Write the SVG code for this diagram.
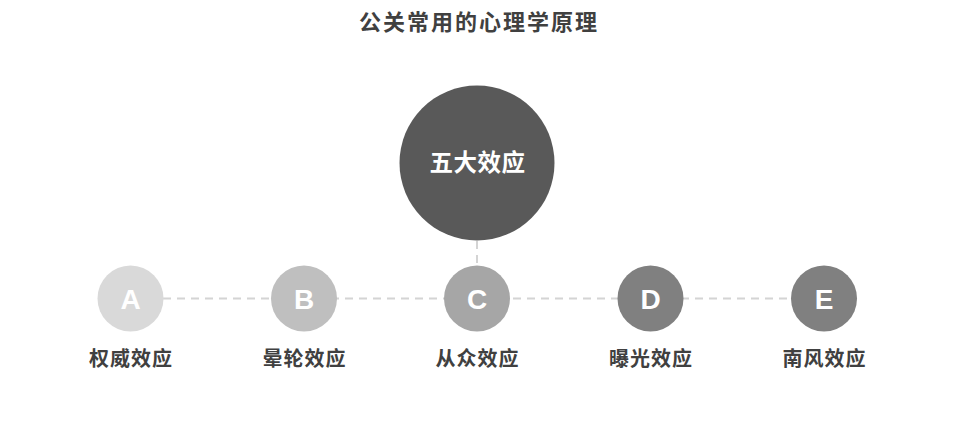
<svg xmlns="http://www.w3.org/2000/svg" width="957" height="427" viewBox="0 0 957 427">
<style>
.t{font-family:"Liberation Sans","Noto Sans CJK SC",sans-serif;font-weight:bold;text-anchor:middle}
.title{font-size:22px;fill:#404040;letter-spacing:2px}
.lbl{font-size:20px;fill:#404040;letter-spacing:1px}
.let{font-size:28px;fill:#ffffff}
.hub{font-size:23.5px;fill:#ffffff;letter-spacing:0.5px}
.dash{stroke:#d4d4d4;stroke-width:2;stroke-dasharray:8 6;fill:none}
</style>
<rect width="957" height="427" fill="#ffffff"/>
<text class="t title" x="479" y="30">公关常用的心理学原理</text>
<g id="connectors">
<line class="dash" x1="163" y1="298.5" x2="791" y2="298.5"/>
<line class="dash" x1="477" y1="241" x2="477" y2="265"/>
</g>
<g id="hub">
<circle cx="477" cy="163" r="77.5" fill="#595959"/>
<text class="t hub" x="477.5" y="171">五大效应</text>
</g>
<g id="nodeA">
<circle cx="130.5" cy="298.5" r="33" fill="#d9d9d9"/>
<text class="t let" x="130.5" y="309">A</text>
<text class="t lbl" x="131" y="366">权威效应</text>
</g>
<g id="nodeB">
<circle cx="304" cy="298.5" r="33" fill="#bfbfbf"/>
<text class="t let" x="304" y="309">B</text>
<text class="t lbl" x="304.5" y="366">晕轮效应</text>
</g>
<g id="nodeC">
<circle cx="477" cy="298.5" r="33" fill="#a6a6a6"/>
<text class="t let" x="477" y="309">C</text>
<text class="t lbl" x="477.5" y="366">从众效应</text>
</g>
<g id="nodeD">
<circle cx="650.5" cy="298.5" r="33" fill="#808080"/>
<text class="t let" x="650.5" y="309">D</text>
<text class="t lbl" x="651" y="366">曝光效应</text>
</g>
<g id="nodeE">
<circle cx="824" cy="298.5" r="33" fill="#808080"/>
<text class="t let" x="824" y="309">E</text>
<text class="t lbl" x="824.5" y="366">南风效应</text>
</g>
</svg>
